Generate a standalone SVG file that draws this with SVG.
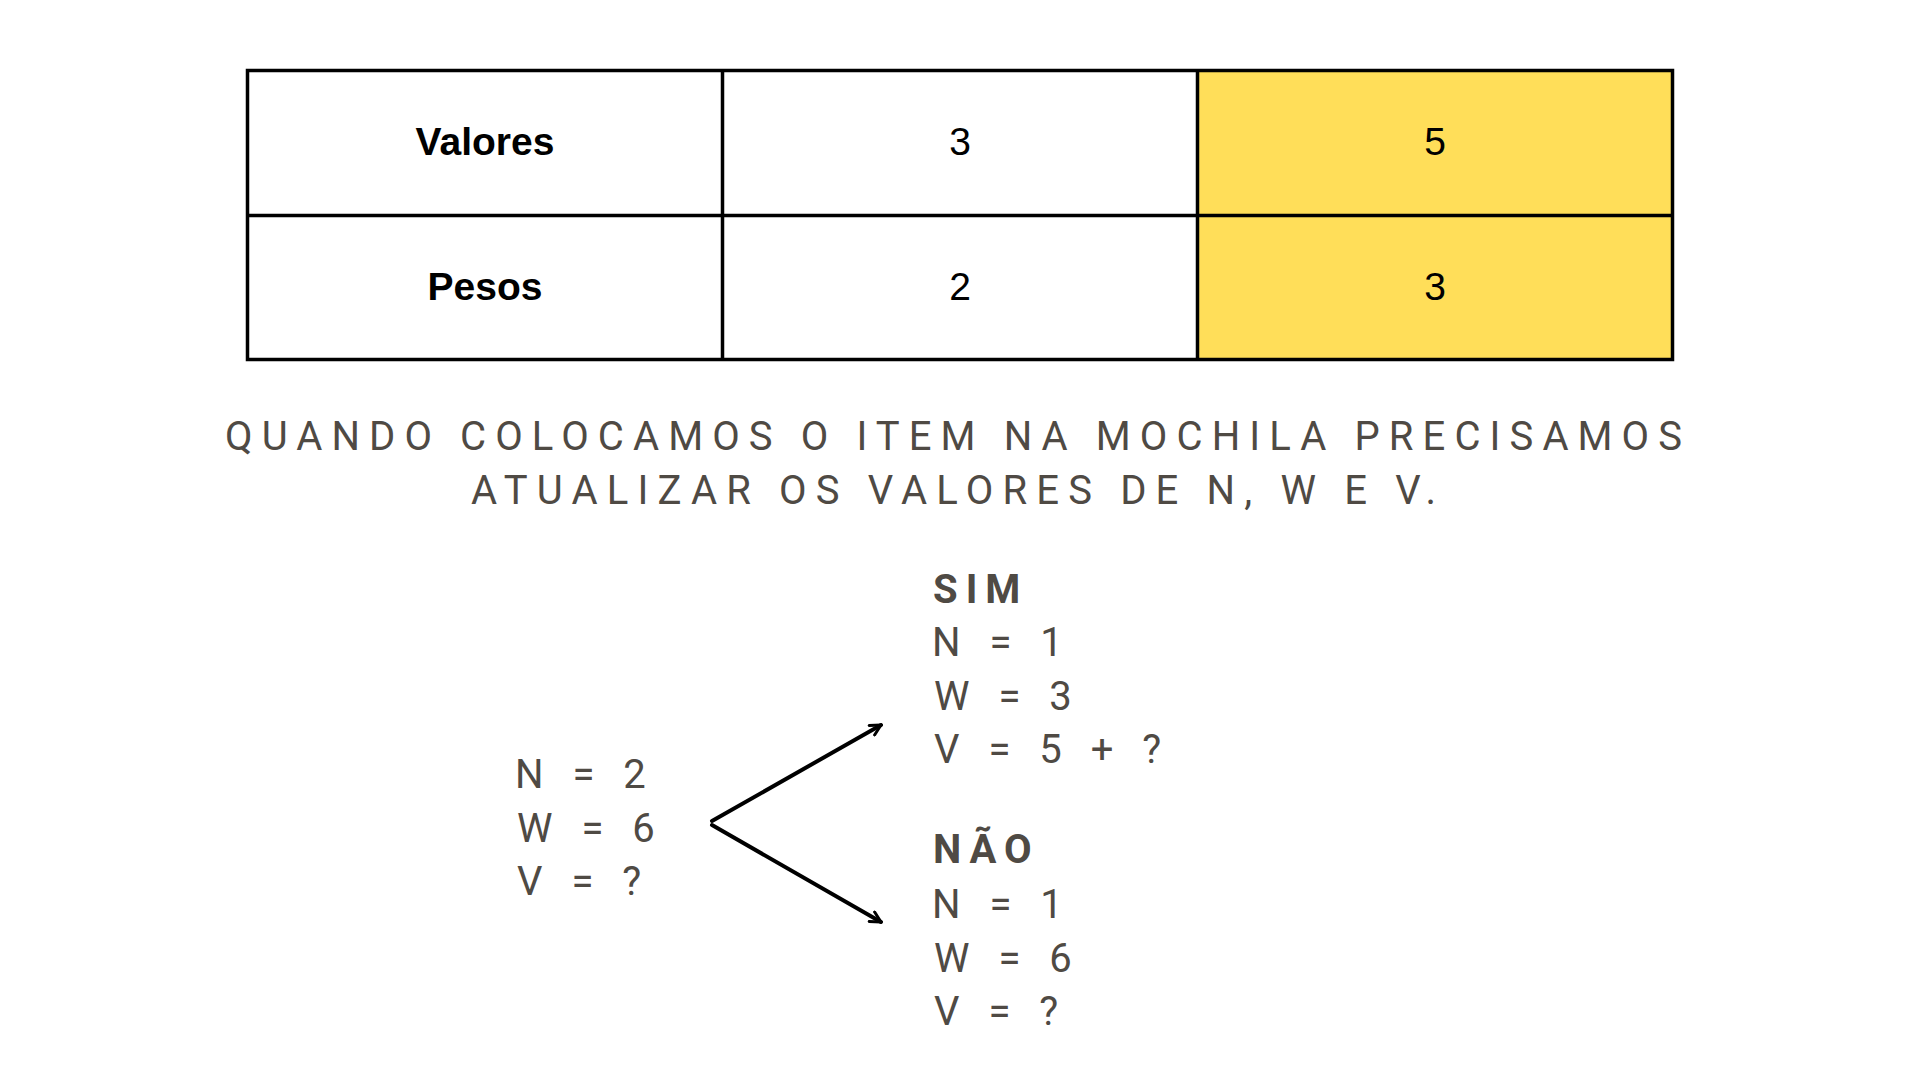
<svg xmlns="http://www.w3.org/2000/svg" width="1920" height="1080" viewBox="0 0 1920 1080">
  <defs>
    <style>
      .cellbg { fill: #ffffff; }
      .hl { fill: #FFDE59; }
      .grid { stroke: #000000; stroke-width: 3.5; fill: none; }
      .th { font-family: "Liberation Sans", Arial, sans-serif; font-weight: 700; font-size: 39px; fill: #000000; text-anchor: middle; }
      .td { font-family: "Liberation Sans", Arial, sans-serif; font-weight: 400; font-size: 39px; fill: #000000; text-anchor: middle; }
      .sub { font-family: Roboto, "Liberation Sans", sans-serif; font-size: 40px; fill: #4f4a44; }
      .eq { font-family: Roboto, "Liberation Sans", sans-serif; font-size: 40px; fill: #4f4a44; letter-spacing: 9.5px; }
      .head { font-family: Roboto, "Liberation Sans", sans-serif; font-weight: 700; font-size: 40px; fill: #4f4a44; letter-spacing: 8px; }
      .conn { stroke: #000000; stroke-width: 4; fill: none; stroke-linecap: round; stroke-linejoin: round; }
    </style>
    <marker id="arrow" viewBox="0 0 14 14" refX="12" refY="7" markerWidth="14" markerHeight="14" markerUnits="userSpaceOnUse" orient="auto">
      <path d="M1.5,1.5 L12,7 L1.5,12.5" fill="none" stroke="#000000" stroke-width="3" stroke-linecap="round" stroke-linejoin="round"/>
    </marker>
  </defs>
  <rect x="0" y="0" width="1920" height="1080" fill="#ffffff"/>

  <g id="table">
    <rect class="cellbg" x="247.5" y="70.5" width="950" height="289"/>
    <rect class="hl" x="1197.5" y="70.5" width="475" height="289"/>
    <rect class="grid" x="247.5" y="70.5" width="1425" height="289"/>
    <line class="grid" x1="247.5" y1="215.5" x2="1672.5" y2="215.5"/>
    <line class="grid" x1="722.5" y1="70.5" x2="722.5" y2="359.5"/>
    <line class="grid" x1="1197.5" y1="70.5" x2="1197.5" y2="359.5"/>
    <g id="cell-valores"><text class="th" x="485" y="155">Valores</text></g>
    <g id="cell-v1"><text class="td" x="960" y="155">3</text></g>
    <g id="cell-v2"><text class="td" x="1435" y="155">5</text></g>
    <g id="cell-pesos"><text class="th" x="485" y="300">Pesos</text></g>
    <g id="cell-p1"><text class="td" x="960" y="300">2</text></g>
    <g id="cell-p2"><text class="td" x="1435" y="300">3</text></g>
  </g>

  <g id="subtitle">
    <text class="sub" x="225" y="450" textLength="1457" lengthAdjust="spacing">QUANDO COLOCAMOS O ITEM NA MOCHILA PRECISAMOS</text>
    <text class="sub" x="471" y="504" textLength="965" lengthAdjust="spacing">ATUALIZAR OS VALORES DE N, W E V.</text>
  </g>

  <g id="node-root">
    <text class="eq" x="515" y="788">N = 2</text>
    <text class="eq" x="517" y="842">W = 6</text>
    <text class="eq" x="517" y="895">V = ?</text>
  </g>

  <g id="node-sim">
    <text class="head" x="933" y="603">SIM</text>
    <text class="eq" x="932" y="656">N = 1</text>
    <text class="eq" x="934" y="710">W = 3</text>
    <text class="eq" x="934" y="763">V = 5 + ?</text>
  </g>

  <g id="node-nao">
    <text class="head" x="933" y="863">NÃO</text>
    <text class="eq" x="932" y="918">N = 1</text>
    <text class="eq" x="934" y="972">W = 6</text>
    <text class="eq" x="934" y="1025">V = ?</text>
  </g>

  <g id="connectors">
    <line class="conn" x1="712" y1="821" x2="881" y2="725" marker-end="url(#arrow)"/>
    <line class="conn" x1="712" y1="825" x2="881" y2="922" marker-end="url(#arrow)"/>
  </g>
</svg>
